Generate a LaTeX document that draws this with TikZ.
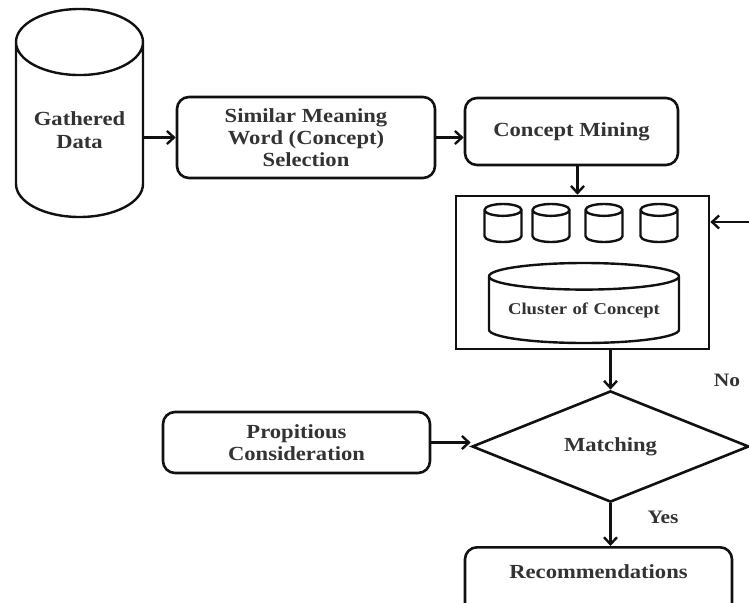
\documentclass[tikz,border=0pt]{standalone}
\usepackage{fontspec}
\setmainfont[FakeStretch=1.13]{Liberation Serif}
\usetikzlibrary{arrows.meta,positioning,shapes.geometric}
\definecolor{fcline}{HTML}{111111}
\definecolor{fctext}{HTML}{333333}

\begin{document}
\begin{tikzpicture}[x=1pt, y=-1pt,
  box/.style={rectangle, rounded corners=12pt, draw=fcline, line width=2.6pt, align=center,
              text=fctext, font=\bfseries\fontsize{20}{22}\selectfont},
  can/.style={cylinder, shape border rotate=90, draw=fcline, line width=2.4pt, inner sep=0pt,
              align=center, text=fctext, anchor=shape center},
  arr/.style={-{Straight Barb[length=7pt,width=13pt]}, line width=2.4pt, draw=fcline},
  lbl/.style={font=\bfseries\fontsize{19}{20}\selectfont, text=fctext}
]
  \useasboundingbox (0,0) rectangle (749,602);
  \clip (0,0) rectangle (749,602);

  % sources
  \node[can, text width=127pt, minimum height=208pt, aspect=0.52,
        font=\bfseries\fontsize{20}{23}\selectfont] (gathered) at (79.5,113) {Gathered\\Data};
  \node[box, minimum width=258pt, minimum height=81pt] (similar) at (306,137.5) {Similar Meaning\\Word (Concept)\\Selection};
  \node[box, minimum width=213pt, minimum height=67pt] (mining) at (571.5,131.5) {Concept Mining};

  % cluster store
  \node[draw=fcline, line width=2.6pt, minimum width=253pt, minimum height=153pt] (cluster) at (582.5,272.5) {};
  \foreach \cx [count=\i] in {503,551,604,659}
    \node[can, text width=37pt, minimum height=38pt, aspect=0.32] (db\i) at (\cx,223) {};
  \node[can, text width=190pt, minimum height=80pt, aspect=0.14,
        font=\bfseries\fontsize{16.5}{18}\selectfont] (concept) at (584,303) {Cluster of Concept};

  % decision
  \node[diamond, draw=fcline, line width=2.6pt, minimum width=277pt, minimum height=103pt, inner sep=0pt,
        text=fctext, font=\bfseries\fontsize{20}{22}\selectfont] (match) at (610.5,446.5) {Matching};
  \node[box, minimum width=267pt, minimum height=61pt] (propitious) at (296.5,442.5) {Propitious\\Consideration};
  \node[box, anchor=north, minimum width=267pt, inner ysep=17pt, text depth=40pt] (recs) at (598.5,546) {Recommendations};
  \coordinate (feedback) at (749,222);
  \node[lbl] (no) at (727,380) {No};
  \node[lbl] (yes) at (663,517) {Yes};

  \draw[arr] (gathered.east |- similar.west) -- (similar.west);
  \draw[arr] (similar.east) -- (similar.east -| mining.west);
  \draw[arr] ([xshift=6pt]mining.south) -- ([xshift=6pt]mining.south |- cluster.north);
  \draw[arr] (feedback) -- (feedback -| cluster.east);
  \draw[arr] (match.north |- cluster.south) -- (match.north);
  \draw[arr] (propitious.east) -- (propitious.east -| match.west);
  \draw[arr] (match.south) -- (match.south |- recs.north);
\end{tikzpicture}
\end{document}
